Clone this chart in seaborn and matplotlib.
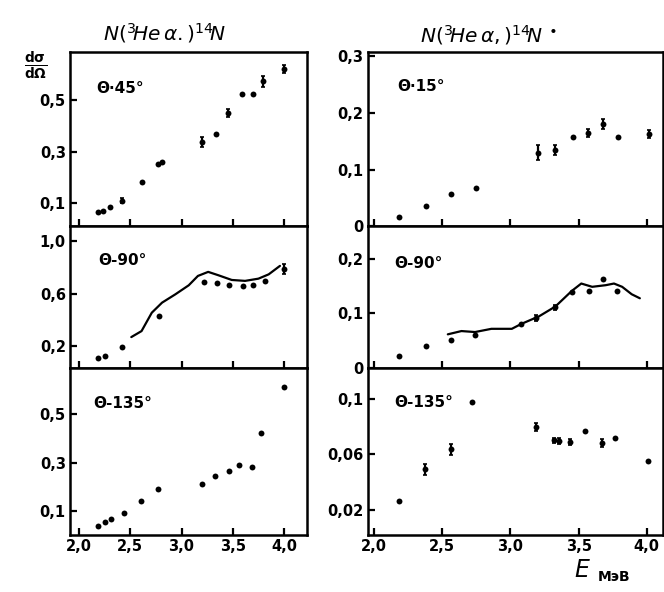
import matplotlib
matplotlib.use("Agg")
import matplotlib.pyplot as plt
import matplotlib.ticker as mticker
import seaborn as sns
import pandas as pd

# ── Data ─────────────────────────────────────────────────────────────────────
# left column: N(3He,a)14N
e45 = [2.19, 2.23, 2.30, 2.42, 2.61, 2.77, 2.81, 3.20, 3.34, 3.45, 3.59, 3.70, 3.79, 4.00]
s45 = [0.065, 0.070, 0.085, 0.109, 0.183, 0.251, 0.259, 0.336, 0.367, 0.449, 0.524, 0.522, 0.571, 0.620]
err45 = [0, 0, 0, 0.01, 0, 0, 0, 0.02, 0, 0.015, 0, 0, 0.02, 0.015]

e90 = [2.19, 2.25, 2.42, 2.78, 3.22, 3.35, 3.46, 3.60, 3.70, 3.81, 4.00]
s90 = [0.108, 0.121, 0.192, 0.428, 0.690, 0.685, 0.664, 0.659, 0.664, 0.698, 0.787]
err90 = [0, 0, 0, 0, 0, 0, 0, 0, 0, 0, 0.04]
curve90_e = [2.51, 2.61, 2.71, 2.81, 2.94, 3.07, 3.16, 3.26, 3.36, 3.49, 3.62, 3.75, 3.85, 3.96]
curve90_s = [0.267, 0.313, 0.454, 0.531, 0.595, 0.664, 0.736, 0.767, 0.741, 0.705, 0.698, 0.715, 0.748, 0.813]

e135 = [2.19, 2.25, 2.31, 2.44, 2.60, 2.77, 3.20, 3.33, 3.46, 3.56, 3.69, 3.78, 4.00]
s135 = [0.040, 0.056, 0.070, 0.093, 0.141, 0.192, 0.213, 0.244, 0.268, 0.292, 0.282, 0.423, 0.610]

# right column: N(3He,a)14N*
e15s = [2.18, 2.38, 2.56, 2.75, 3.20, 3.33, 3.46, 3.57, 3.68, 3.79, 4.02]
s15s = [0.016, 0.036, 0.057, 0.067, 0.130, 0.135, 0.157, 0.164, 0.180, 0.158, 0.163]
err15s = [0, 0, 0, 0, 0.013, 0.009, 0, 0.007, 0.009, 0, 0.007]

e90s = [2.18, 2.38, 2.56, 2.74, 3.08, 3.19, 3.33, 3.45, 3.58, 3.68, 3.78]
s90s = [0.0225, 0.0405, 0.051, 0.060, 0.080, 0.0915, 0.111, 0.140, 0.141, 0.1625, 0.141]
err90s = [0, 0, 0, 0, 0, 0.006, 0.004, 0, 0, 0, 0]
curve90s_e = [2.54, 2.64, 2.74, 2.86, 3.01, 3.08, 3.21, 3.33, 3.45, 3.52, 3.60, 3.70, 3.76, 3.82, 3.89, 3.95]
curve90s_s = [0.0616, 0.0676, 0.0658, 0.0717, 0.0717, 0.0807, 0.0946, 0.1126, 0.141, 0.1546,
              0.1486, 0.1516, 0.1546, 0.1486, 0.135, 0.1276]

e135s = [2.18, 2.37, 2.56, 2.72, 3.19, 3.32, 3.36, 3.44, 3.55, 3.67, 3.77, 4.01]
s135s = [0.0265, 0.049, 0.0636, 0.0975, 0.0796, 0.070, 0.0695, 0.069, 0.0767, 0.0679, 0.072, 0.0548]
err135s = [0, 0.004, 0.004, 0, 0.003, 0.002, 0.002, 0.002, 0, 0.003, 0, 0]

x_ticks = [2.0, 2.5, 3.0, 3.5, 4.0]

# ── Setup ────────────────────────────────────────────────────────────────────
sns.set_theme(style="white")
plt.rcParams["font.family"] = ["DejaVu Sans"]
plt.rcParams["text.color"] = "black"
plt.rcParams["mathtext.fontset"] = "dejavusans"

fig = plt.figure(figsize=(6.64, 5.92), dpi=100)

left_x, left_w = 0.1054, 0.3565
right_x, right_w = 0.5538, 0.4443
rows = [(0.6174, 0.2948), (0.3784, 0.2390), (0.0971, 0.2813)]


def comma(x, pos):
    if abs(x) < 1e-9:
        return "0"
    s = f"{x:.2f}".rstrip("0")
    if s.endswith("."):
        s += "0"
    return s.replace(".", ",")


def panel(rect, e, s, err, label, yticks, ylim, xlim, lab_xy, curve=None, bottom=False):
    ax = fig.add_axes(rect)
    df = pd.DataFrame({"E": e, "s": s, "err": err if err else [0] * len(e)})
    sns.scatterplot(data=df, x="E", y="s", ax=ax, color="black", s=18,
                    edgecolor="black", linewidth=0, zorder=3)
    bars = df[df["err"] > 0]
    if len(bars):
        ax.errorbar(bars["E"], bars["s"], yerr=bars["err"], fmt="none",
                    ecolor="black", elinewidth=1.6, capsize=1.5, capthick=1.2)
    if curve is not None:
        cdf = pd.DataFrame({"E": curve[0], "s": curve[1]})
        sns.lineplot(data=cdf, x="E", y="s", ax=ax, color="black", linewidth=1.6,
                     sort=False, estimator=None)
    ax.set_xlim(*xlim)
    ax.set_ylim(*ylim)
    ax.set_xticks(x_ticks)
    ax.set_yticks(yticks)
    ax.yaxis.set_major_formatter(mticker.FuncFormatter(comma))
    ax.xaxis.set_major_formatter(mticker.FuncFormatter(lambda v, p: f"{v:.1f}".replace(".", ",")))
    ax.tick_params(direction="in", length=5, width=1.6, labelsize=10.5, pad=3,
                   colors="black", bottom=True, left=True)
    if not bottom:
        ax.tick_params(labelbottom=False)
    for lab in ax.get_xticklabels() + ax.get_yticklabels():
        lab.set_fontweight("bold")
    for sp in ax.spines.values():
        sp.set_color("black")
        sp.set_linewidth(1.8)
    ax.set_xlabel("")
    ax.set_ylabel("")
    ax.text(lab_xy[0], lab_xy[1], label, transform=ax.transAxes, fontsize=11,
            fontweight="bold", va="center", ha="left")
    return ax


lx = (1.912, 4.221)
rx = (1.952, 4.118)

panel([left_x, rows[0][0], left_w, rows[0][1]], e45, s45, err45, "Θ·45°",
      [0.1, 0.3, 0.5], (0.01, 0.685), lx, (0.11, 0.79))
panel([left_x, rows[1][0], left_w, rows[1][1]], e90, s90, err90, "Θ-90°",
      [0.2, 0.6, 1.0], (0.03, 1.115), lx, (0.12, 0.76), curve=(curve90_e, curve90_s))
panel([left_x, rows[2][0], left_w, rows[2][1]], e135, s135, None, "Θ-135°",
      [0.1, 0.3, 0.5], (0.005, 0.69), lx, (0.10, 0.785), bottom=True)

panel([right_x, rows[0][0], right_w, rows[0][1]], e15s, s15s, err15s, "Θ·15°",
      [0.0, 0.1, 0.2, 0.3], (0.003, 0.307), rx, (0.10, 0.80))
panel([right_x, rows[1][0], right_w, rows[1][1]], e90s, s90s, err90s, "Θ-90°",
      [0.0, 0.1, 0.2], (0.0, 0.259), rx, (0.09, 0.74), curve=(curve90s_e, curve90s_s))
panel([right_x, rows[2][0], right_w, rows[2][1]], e135s, s135s, err135s, "Θ-135°",
      [0.02, 0.06, 0.1], (0.002, 0.1223), rx, (0.09, 0.79), bottom=True)

# ── Titles and axis texts ────────────────────────────────────────────────────
fig.text(165 / 664, 1 - 33 / 592, r"$N(^3\!He\,\alpha.)^{14}\!N$", fontsize=14.5,
         ha="center", va="center")
fig.text(488 / 664, 1 - 35 / 592, r"$N(^3\!He\,\alpha,)^{14}\!N^{\,\bullet}$", fontsize=14.5,
         ha="center", va="center")
fig.text(36 / 664, 1 - 66 / 592, r"$\mathbf{\frac{d\sigma}{d\Omega}}$", fontsize=14,
         ha="center", va="center")
fig.text(582 / 664, 1 - 570 / 592, "E", fontsize=17, style="italic",
         ha="center", va="center")
fig.text(598 / 664, 1 - 577 / 592, "МэВ", fontsize=10, fontweight="bold",
         ha="left", va="center")

plt.savefig("out.png", dpi=100)
plt.close()
print("Saved: out.png")
